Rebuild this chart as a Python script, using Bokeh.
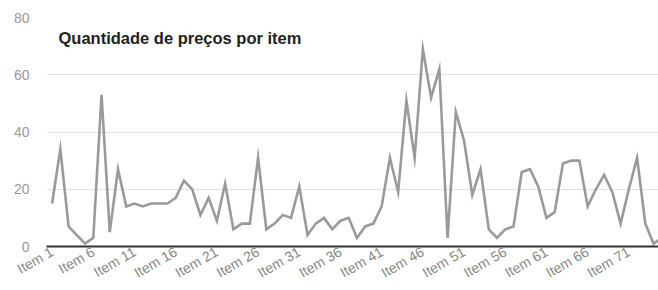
from bokeh.plotting import figure
from bokeh.models import Range1d, FixedTicker, Label
from bokeh.embed import file_html
from bokeh.resources import INLINE

title_text = "Quantidade de preços por item"

items = [f"Item {i}" for i in range(1, 76)]
values = [15, 34, 7, 4, 1, 3, 53, 5, 27, 14,
          15, 14, 15, 15, 15, 17, 23, 20, 11, 17,
          9, 22, 6, 8, 8, 31, 6, 8, 11, 10,
          21, 4, 8, 10, 6, 9, 10, 3, 7, 8,
          14, 31, 19, 51, 31, 69, 52, 62, 3, 47,
          37, 18, 27, 6, 3, 6, 7, 26, 27, 21,
          10, 12, 29, 30, 30, 14, 20, 25, 19, 8,
          20, 31, 8, 1, 3]
tick_every = 5
y_ticks = [0, 20, 40, 60, 80]

xs = list(range(1, len(items) + 1))
label_ticks = xs[::tick_every]

p = figure(width=658, height=290, output_backend="svg", toolbar_location=None,
           x_range=Range1d(0.32, 74.6), y_range=Range1d(0, 80),
           min_border_left=46, min_border_right=0, min_border_top=17,
           min_border_bottom=44)
p.outline_line_color = None
p.background_fill_color = "white"
p.border_fill_color = "white"

p.line(xs, values, line_color="#9a9a9a", line_width=2.6, line_join="miter")

# x axis
xa = p.xaxis[0]
xa.ticker = FixedTicker(ticks=label_ticks)
xa.major_label_overrides = {x: items[x - 1] for x in label_ticks}
xa.major_label_orientation = 0.52
xa.axis_line_color = "#333333"
xa.axis_line_width = 2
xa.major_tick_line_color = None
xa.minor_tick_line_color = None
xa.major_tick_out = 0
xa.major_tick_in = 0
xa.major_label_standoff = 4
xa.major_label_text_font = "Liberation Sans"
xa.major_label_text_font_size = "14px"
xa.major_label_text_color = "#888888"

# y axis
ya = p.yaxis[0]
ya.ticker = FixedTicker(ticks=y_ticks)
ya.axis_line_color = None
ya.major_tick_line_color = None
ya.minor_tick_line_color = None
ya.major_tick_out = 0
ya.major_tick_in = 0
ya.major_label_standoff = 17
ya.major_label_text_font = "Liberation Sans"
ya.major_label_text_font_size = "14px"
ya.major_label_text_color = "#999999"

p.xgrid.grid_line_color = None
p.ygrid.grid_line_color = "#e2e2e2"
p.ygrid.grid_line_width = 1

p.add_layout(Label(x=12, y=209, x_units="screen", y_units="screen",
                   text=title_text, text_font="Liberation Sans",
                   text_font_style="bold", text_font_size="16.5px",
                   text_color="#222222", text_baseline="middle",
                   text_align="left"))

open("out.html", "w").write(file_html(p, INLINE))
